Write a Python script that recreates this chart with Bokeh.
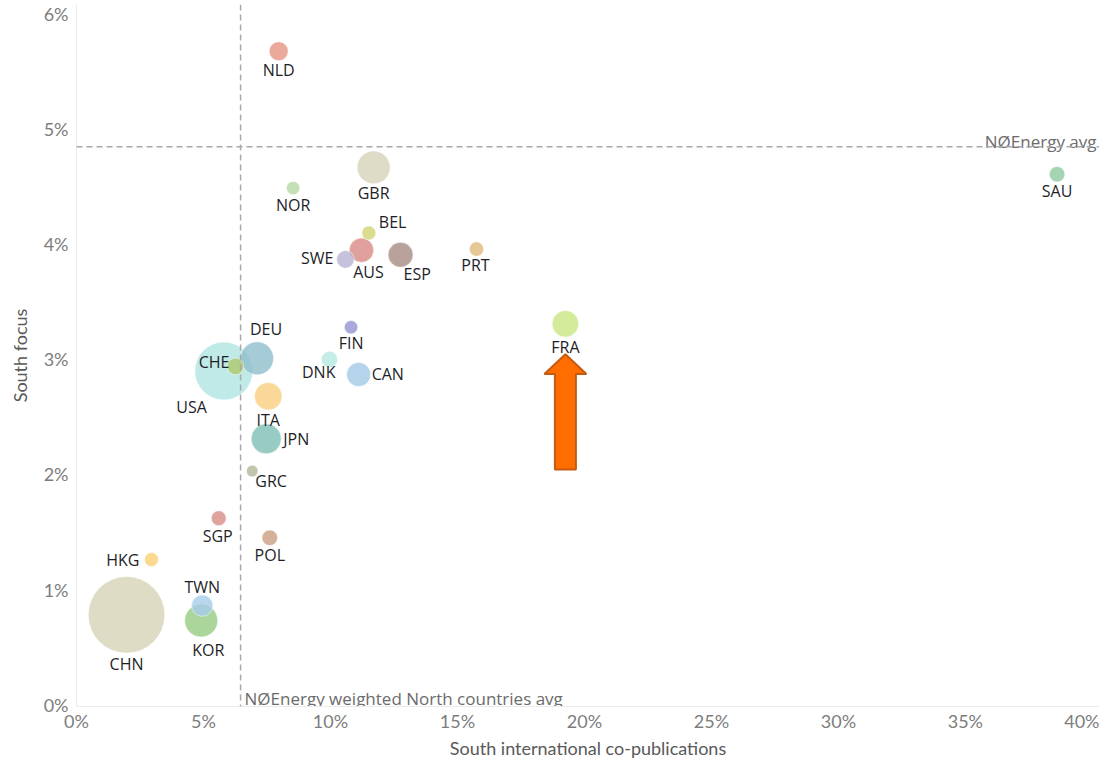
from bokeh.plotting import figure
from bokeh.models import Span, FixedTicker, PrintfTickFormatter, ColumnDataSource
from bokeh.core.properties import value
from bokeh.embed import file_html
from bokeh.resources import INLINE
import math

# ---------------- data ----------------
countries = ["NLD", "GBR", "NOR", "BEL", "AUS", "SWE", "ESP", "PRT", "SAU", "FRA",
             "FIN", "DEU", "CHE", "USA", "DNK", "CAN", "ITA", "JPN", "GRC", "SGP",
             "POL", "HKG", "TWN", "KOR", "CHN"]
south_copub_pct = [7.96, 11.70, 8.53, 11.51, 11.22, 10.59, 12.76, 15.75, 38.61, 19.25,
                   10.81, 7.11, 6.26, 5.80, 9.96, 11.11, 7.55, 7.47, 6.92, 5.60,
                   7.61, 2.95, 4.95, 4.91, 1.97]
south_focus_pct = [5.68, 4.67, 4.49, 4.10, 3.95, 3.87, 3.91, 3.96, 4.61, 3.31,
                   3.28, 3.01, 2.94, 2.90, 3.00, 2.87, 2.68, 2.31, 2.03, 1.62,
                   1.45, 1.26, 0.86, 0.73, 0.78]
publications = [900, 2720, 450, 490, 1490, 770, 1560, 520, 610, 1770,
                450, 2720, 690, 8410, 670, 1440, 1900, 2250, 340, 560,
                610, 490, 1140, 2720, 14670]
observed_colors = ["#eaa99a", "#dedcc6", "#c4deb6", "#dadd90", "#e0a09b", "#c6c2dc",
                   "#b9a29b", "#e6c896", "#a5d4b3", "#d5eb9c", "#aaa9de", "#a5cbd6",
                   "#bdd38a", "#c0eae7", "#c5ede7", "#b3d4eb", "#fad898", "#98cbc3",
                   "#c2c4ae", "#dfa49e", "#d4b19b", "#fbd98f", "#b8d6ee", "#aad69b",
                   "#dedcc5"]
north_avg_focus_pct = 4.85
north_avg_copub_pct = 6.46
x_ticks = [0, 5, 10, 15, 20, 25, 30, 35, 40]
y_ticks = [0, 1, 2, 3, 4, 5, 6]

# ---------------- styling / layout ----------------
ALPHA = 0.8
LABEL_FONT = "Open Sans"
TICK_FONT = "Lato"
X_RANGE = (0, 40.28)
Y_RANGE = (-0.017, 6.086)
W, H = 1099, 761
BL, BR, BT, BB = 76, 0, 4, 44

# label placement: (align, dx px, dy px)
LABEL_POS = {
    "NLD": ("center", 0, 19), "GBR": ("center", 0, 26), "NOR": ("center", 0, 17),
    "BEL": ("left", 10, -11), "SWE": ("right", -12, -1), "AUS": ("center", 7, 22),
    "ESP": ("left", 3, 19), "PRT": ("center", -1, 16), "SAU": ("center", 0, 17),
    "FRA": ("center", 0, 23), "FIN": ("center", 0, 16), "DEU": ("center", 9, -29),
    "CHE": ("right", -6, -4), "USA": ("right", -17, 36), "DNK": ("right", 6, 13),
    "CAN": ("left", 13, 0), "ITA": ("center", 0, 24), "JPN": ("left", 17, 0),
    "GRC": ("left", 3, 10), "SGP": ("center", -1, 18), "POL": ("center", 0, 17),
    "HKG": ("right", -12, 0), "TWN": ("center", 0, -19), "KOR": ("center", 7, 29),
    "CHN": ("center", 0, 49),
}


def base_color(hexcol, a):
    r, g, b = int(hexcol[1:3], 16), int(hexcol[3:5], 16), int(hexcol[5:7], 16)
    f = lambda c: max(0, min(255, round((c - (1 - a) * 255) / a)))
    return "#%02x%02x%02x" % (f(r), f(g), f(b))


order = sorted(range(len(countries)), key=lambda i: -publications[i])
src = ColumnDataSource(dict(
    x=[south_copub_pct[i] for i in order],
    y=[south_focus_pct[i] for i in order],
    size=[2 * math.sqrt(publications[i] / 10.0) for i in order],
    color=[base_color(observed_colors[i], ALPHA) for i in order],
    name=[countries[i] for i in order],
))

p = figure(width=W, height=H, x_range=X_RANGE, y_range=Y_RANGE,
           output_backend="svg", toolbar_location=None,
           min_border_left=BL, min_border_right=BR, min_border_top=BT, min_border_bottom=BB)

p.grid.visible = False
p.outline_line_color = None
p.background_fill_color = "white"
p.border_fill_color = "white"

for ax in (p.xaxis[0], p.yaxis[0]):
    ax.axis_line_color = "#ebebeb"
    ax.major_tick_line_color = None
    ax.minor_tick_line_color = None
    ax.major_tick_out = 0
    ax.major_tick_in = 0
    ax.minor_tick_out = 0
    ax.minor_tick_in = 0
    ax.major_label_text_font = TICK_FONT
    ax.major_label_text_font_size = "18px"
    ax.major_label_text_color = "#7d7d7d"
    ax.major_label_text_line_height = 1.0
    ax.axis_label_text_font = TICK_FONT
    ax.axis_label_text_font_size = "18px"
    ax.axis_label_text_font_style = "normal"
    ax.axis_label_text_color = "#595959"
    ax.axis_label_text_line_height = 1.0
    ax.formatter = PrintfTickFormatter(format="%d%%")

p.xaxis[0].ticker = FixedTicker(ticks=x_ticks)
p.yaxis[0].ticker = FixedTicker(ticks=y_ticks)
p.xaxis[0].axis_label = "South international co-publications"
p.yaxis[0].axis_label = "South focus"
p.xaxis[0].major_label_standoff = 3
p.xaxis[0].axis_label_standoff = 2
p.yaxis[0].major_label_standoff = 8
p.yaxis[0].axis_label_standoff = 10

# bubbles
p.scatter(x="x", y="y", size="size", source=src, fill_color="color",
          fill_alpha=ALPHA, line_color="white", line_alpha=0.5, line_width=1)

# reference lines
p.add_layout(Span(location=north_avg_copub_pct, dimension="height",
                  line_color="#a9a9a9", line_dash="6 4", line_width=1.5))
p.add_layout(Span(location=north_avg_focus_pct, dimension="width",
                  line_color="#a9a9a9", line_dash="6 4", line_width=1.5))

p.text(x=[X_RANGE[1]], y=[north_avg_focus_pct], text=["NØEnergy avg"],
       text_align="right", text_baseline="alphabetic", x_offset=-3, y_offset=-5,
       text_font=value(LABEL_FONT), text_font_size="17px", text_color="#6b6b6b")
p.text(x=[north_avg_copub_pct], y=[0], text=["NØEnergy weighted North countries avg"],
       text_align="left", text_baseline="alphabetic", x_offset=4, y_offset=-6,
       text_font=value(LABEL_FONT), text_font_size="17px", text_color="#6b6b6b")

# country labels
for align in ("left", "center", "right"):
    idx = [i for i, c in enumerate(countries) if LABEL_POS[c][0] == align]
    lsrc = ColumnDataSource(dict(
        x=[south_copub_pct[i] for i in idx],
        y=[south_focus_pct[i] for i in idx],
        t=[countries[i] for i in idx],
        dx=[LABEL_POS[countries[i]][1] for i in idx],
        dy=[LABEL_POS[countries[i]][2] for i in idx],
    ))
    p.text(x="x", y="y", text="t", x_offset="dx", y_offset="dy", source=lsrc,
           text_align=align, text_baseline="middle",
           text_font=value(LABEL_FONT), text_font_size="16px", text_color="#1e1e28")

# highlight arrow below FRA
fra = countries.index("FRA")
fx, fy = south_copub_pct[fra], south_focus_pct[fra]
frame_w = W - BL - BR
frame_h = H - BT - BB
xpx = frame_w / (X_RANGE[1] - X_RANGE[0])
ypx = frame_h / (Y_RANGE[1] - Y_RANGE[0])
ARROW_PX = [(0, 31), (21, 51), (10.5, 51), (10.5, 148), (-10.5, 148), (-10.5, 51), (-21, 51)]
p.patch([fx + dx / xpx for dx, dy in ARROW_PX], [fy - dy / ypx for dx, dy in ARROW_PX],
        fill_color="#ff6d00", line_color="#c55a11", line_width=2)

open("out.html", "w").write(file_html(p, INLINE))
